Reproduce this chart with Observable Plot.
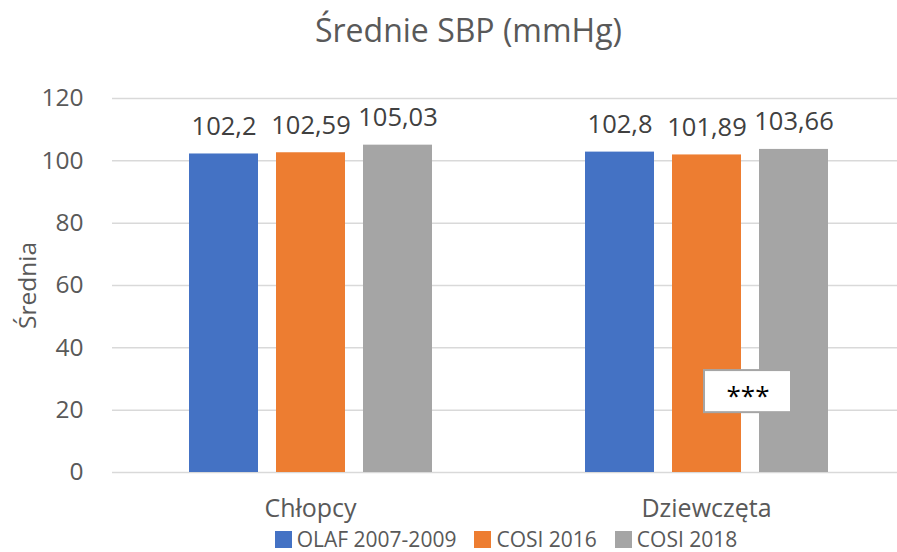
<!DOCTYPE html>
<html><head><meta charset="utf-8">
<script src="https://cdn.jsdelivr.net/npm/d3@7"></script>
<script src="https://cdn.jsdelivr.net/npm/@observablehq/plot@0.6"></script>
<style>
body{margin:0;background:#fff;font-family:"Open Sans",sans-serif;width:897px;height:552px;overflow:hidden;}
#title{height:80px;box-sizing:border-box;padding-left:40px;text-align:center;font-size:32px;line-height:32px;padding-top:14px;color:#595959;}
#chart svg{display:block;overflow:hidden;}
#legend{height:26px;display:flex;justify-content:center;align-items:center;padding-left:115px;font-size:21px;color:#595959;}
#legend .item{display:flex;align-items:center;margin-right:18px;}
#legend .item:last-child{margin-right:0;}
#legend .sw{width:17px;height:17px;margin-right:5px;}
</style></head><body>
<div id="title">Średnie SBP (mmHg)</div>
<div id="chart"></div>
<div id="legend"></div>
<script>
const groups = ["Chłopcy", "Dziewczęta"];
const series = ["OLAF 2007-2009", "COSI 2016", "COSI 2018"];
const chlopcy = [102.2, 102.59, 105.03];
const dziewczeta = [102.8, 101.89, 103.66];
const colors = ["#4472C4", "#ED7D31", "#A5A5A5"];
const yTicks = [0, 20, 40, 60, 80, 100, 120];
const annotation = [{group: "Dziewczęta", series: "COSI 2016", y1: 19.2, y2: 32.7, y: 26, label: "***"}];

const data = [];
[chlopcy, dziewczeta].forEach((vals, gi) => vals.forEach((v, si) => data.push({group: groups[gi], series: series[si], value: v})));
const fmt = v => String(v).replace(".", ",");

const plot = Plot.plot({
  width: 897,
  height: 446,
  marginTop: 18,
  marginBottom: 54,
  marginLeft: 112,
  marginRight: -7,
  style: {fontFamily: '"Open Sans", sans-serif', background: "#fff"},
  fx: {domain: groups, padding: 0, label: null},
  x: {domain: series, paddingInner: 0.211, paddingOuter: 0.868, axis: null},
  y: {domain: [0, 120], ticks: yTicks, label: "Średnia"},
  color: {domain: series, range: colors},
  marks: [
    Plot.gridY(yTicks, {stroke: "#D9D9D9", strokeOpacity: 1, strokeWidth: 1.5}),
    Plot.axisY(yTicks, {tickSize: 0, tickPadding: 29, fontSize: 24.5, color: "#595959", label: "Średnia", labelAnchor: "center", labelArrow: "none", labelOffset: 94}),
    Plot.axisFx({anchor: "bottom", tickSize: 0, tickPadding: 27, fontSize: 25, color: "#595959", label: null}),
    Plot.barY(data, {fx: "group", x: "series", y: "value", fill: "series"}),
    Plot.text(data, {fx: "group", x: "series", y: "value", text: d => fmt(d.value), lineAnchor: "bottom", dy: -19, fontSize: 25.5, fill: "#404040"}),
    Plot.barY(annotation, {fx: "group", x: "series", y1: "y1", y2: "y2", fill: "#fff", stroke: "#A5A5A5", strokeWidth: 2, insetLeft: -9, insetRight: -9, dx: 41}),
    Plot.text(annotation, {fx: "group", x: "series", y: "y", text: "label", dx: 41, dy: 5, fontSize: 26, fill: "#000"})
  ]
});
document.getElementById("chart").appendChild(plot);

const legend = document.getElementById("legend");
series.forEach((s, i) => {
  const it = document.createElement("div");
  it.className = "item";
  const sw = document.createElement("div");
  sw.className = "sw";
  sw.style.background = colors[i];
  const t = document.createElement("span");
  t.textContent = s;
  it.appendChild(sw); it.appendChild(t);
  legend.appendChild(it);
});
</script>
</body></html>
